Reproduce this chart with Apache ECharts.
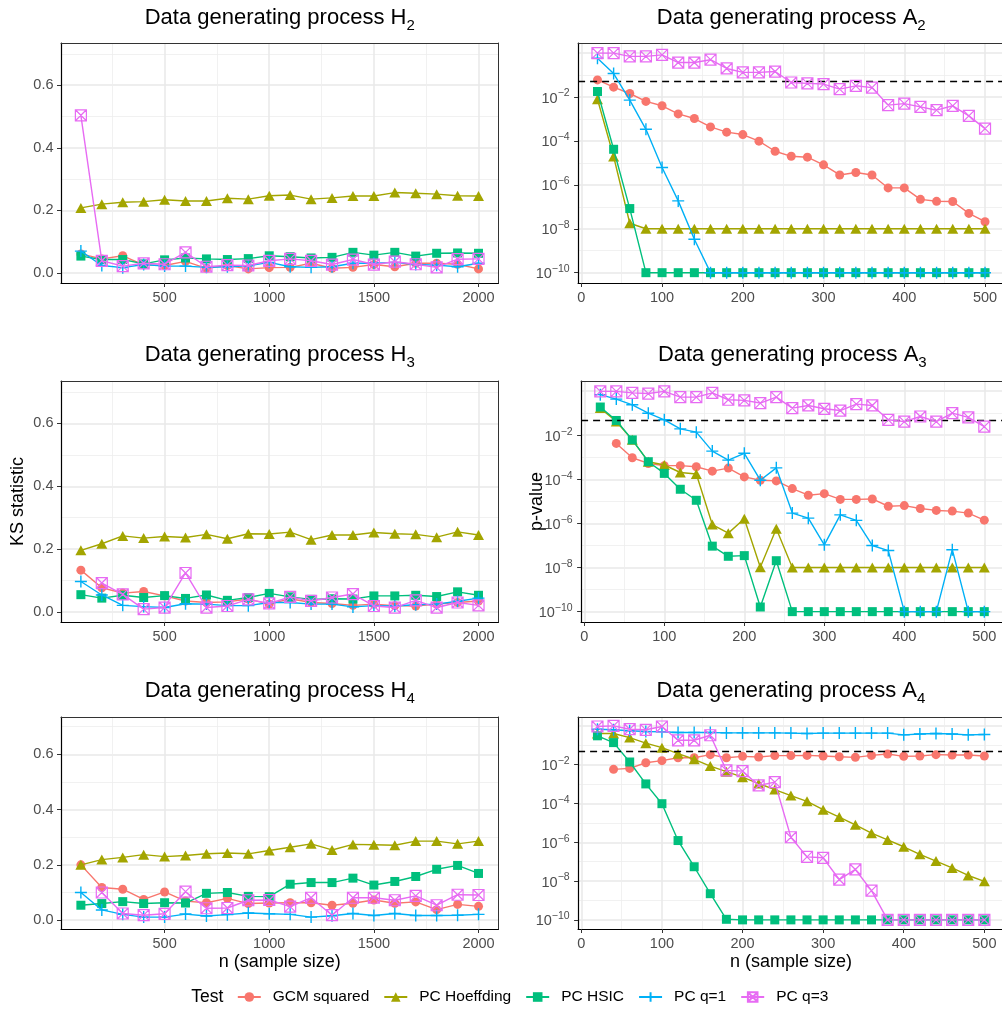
<!DOCTYPE html>
<html>
<head>
<meta charset="utf-8">
<title>Data generating processes</title>
<script src="https://cdn.jsdelivr.net/npm/echarts@6.0.0/dist/echarts.min.js"></script>
<style>
    html, body { margin: 0; padding: 0; background: #ffffff; }
    #chart { width: 1002px; height: 1011px; }
</style>
</head>
<body>
<div id="chart"></div>
<script>
// sample sizes
const nLarge = [100, 200, 300, 400, 500, 600, 700, 800, 900, 1000, 1100, 1200, 1300, 1400, 1500, 1600, 1700, 1800, 1900, 2000];
const nSmall = [20, 40, 60, 80, 100, 120, 140, 160, 180, 200, 220, 240, 260, 280, 300, 320, 340, 360, 380, 400, 420, 440, 460, 480, 500];

// KS statistic under the null processes (left column)
const h2Gcm = [0.061, 0.045, 0.055, 0.026, 0.024, 0.037, 0.015, 0.024, 0.013, 0.017, 0.018, 0.031, 0.015, 0.018, 0.027, 0.020, 0.031, 0.031, 0.028, 0.013];
const h2Hoeff = [0.208, 0.220, 0.226, 0.228, 0.234, 0.230, 0.230, 0.239, 0.236, 0.247, 0.249, 0.236, 0.240, 0.246, 0.246, 0.257, 0.255, 0.252, 0.247, 0.246];
const h2Hsic = [0.054, 0.043, 0.043, 0.029, 0.042, 0.048, 0.045, 0.043, 0.046, 0.055, 0.052, 0.048, 0.050, 0.066, 0.057, 0.066, 0.054, 0.063, 0.064, 0.063];
const h2Q1 = [0.070, 0.024, 0.017, 0.027, 0.022, 0.022, 0.018, 0.020, 0.023, 0.034, 0.020, 0.018, 0.020, 0.031, 0.031, 0.034, 0.027, 0.025, 0.020, 0.031];
const h2Q3 = [0.504, 0.039, 0.022, 0.031, 0.028, 0.066, 0.020, 0.025, 0.024, 0.039, 0.045, 0.039, 0.027, 0.043, 0.027, 0.036, 0.028, 0.018, 0.044, 0.045];

const h3Gcm = [0.133, 0.077, 0.060, 0.065, 0.051, 0.035, 0.030, 0.032, 0.041, 0.025, 0.042, 0.030, 0.027, 0.021, 0.025, 0.020, 0.019, 0.025, 0.030, 0.035];
const h3Hoeff = [0.196, 0.217, 0.242, 0.235, 0.240, 0.237, 0.247, 0.233, 0.249, 0.248, 0.254, 0.230, 0.245, 0.245, 0.253, 0.249, 0.247, 0.238, 0.255, 0.245];
const h3Hsic = [0.055, 0.044, 0.053, 0.046, 0.052, 0.043, 0.054, 0.037, 0.046, 0.059, 0.048, 0.040, 0.042, 0.041, 0.051, 0.051, 0.053, 0.049, 0.064, 0.053];
const h3Q1 = [0.097, 0.054, 0.021, 0.017, 0.014, 0.026, 0.025, 0.020, 0.020, 0.030, 0.030, 0.025, 0.025, 0.016, 0.020, 0.019, 0.023, 0.025, 0.034, 0.044];
const h3Q3 = [null, 0.092, 0.056, 0.009, 0.014, 0.124, 0.014, 0.019, 0.040, 0.027, 0.048, 0.035, 0.046, 0.057, 0.019, 0.014, 0.037, 0.014, 0.030, 0.021];

const h4Gcm = [0.200, 0.118, 0.112, 0.075, 0.102, 0.069, 0.063, 0.079, 0.060, 0.062, 0.063, 0.063, 0.054, 0.061, 0.073, 0.061, 0.066, 0.038, 0.057, 0.050];
const h4Hoeff = [0.200, 0.219, 0.227, 0.237, 0.230, 0.234, 0.240, 0.243, 0.240, 0.252, 0.264, 0.276, 0.254, 0.274, 0.273, 0.271, 0.286, 0.286, 0.276, 0.286];
const h4Hsic = [0.054, 0.060, 0.067, 0.060, 0.063, 0.062, 0.097, 0.100, 0.086, 0.085, 0.130, 0.136, 0.136, 0.152, 0.127, 0.140, 0.158, 0.184, 0.198, 0.169];
const h4Q1 = [0.100, 0.037, 0.021, 0.011, 0.011, 0.022, 0.015, 0.020, 0.026, 0.023, 0.021, 0.011, 0.016, 0.024, 0.017, 0.024, 0.017, 0.017, 0.018, 0.021];
const h4Q3 = [null, 0.100, 0.024, 0.018, 0.023, 0.103, 0.043, 0.044, 0.072, 0.073, 0.049, 0.081, 0.018, 0.081, 0.081, 0.072, 0.088, 0.054, 0.092, 0.091];

// log10(p-value) under the alternatives (right column)
const a2Gcm = [-1.22, -1.55, -1.84, -2.20, -2.40, -2.77, -2.98, -3.36, -3.60, -3.71, -4.01, -4.47, -4.70, -4.74, -5.09, -5.55, -5.44, -5.55, -6.14, -6.14, -6.66, -6.75, -6.76, -7.30, -7.68];
const a2Hoeff = [-2.10, -4.71, -7.75, -8, -8, -8, -8, -8, -8, -8, -8, -8, -8, -8, -8, -8, -8, -8, -8, -8, -8, -8, -8, -8, -8];
const a2Hsic = [-1.75, -4.38, -7.08, -10, -10, -10, -10, -10, -10, -10, -10, -10, -10, -10, -10, -10, -10, -10, -10, -10, -10, -10, -10, -10, -10];
const a2Q1 = [-0.23, -0.93, -2.14, -3.47, -5.21, -6.73, -8.48, -10, -10, -10, -10, -10, -10, -10, -10, -10, -10, -10, -10, -10, -10, -10, -10, -10, -10];
const a2Q3 = [0, 0, -0.15, -0.15, -0.08, -0.43, -0.43, -0.30, -0.70, -0.88, -0.88, -0.84, -1.34, -1.38, -1.41, -1.64, -1.49, -1.57, -2.37, -2.30, -2.45, -2.60, -2.40, -2.86, -3.44];

const a3Gcm = [null, -2.37, -3.02, -3.28, -3.38, -3.38, -3.43, -3.63, -3.49, -3.89, -4.04, -4.07, -4.42, -4.72, -4.65, -4.91, -4.91, -4.89, -5.22, -5.19, -5.32, -5.41, -5.44, -5.53, -5.85];
const a3Hoeff = [-0.77, -1.38, -2.21, -3.20, -3.35, -3.69, -3.76, -6.05, -6.44, -5.79, -7.99, -6.24, -8, -8, -8, -8, -8, -8, -8, -8, -8, -8, -8, -8, -8];
const a3Hsic = [-0.72, -1.33, -2.21, -3.20, -3.73, -4.45, -4.95, -7.03, -7.49, -7.46, -9.79, -7.69, -10, -10, -10, -10, -10, -10, -10, -10, -10, -10, -10, -10, -10];
const a3Q1 = [-0.16, -0.36, -0.62, -1.00, -1.30, -1.71, -1.86, -2.72, -3.13, -2.82, -4.04, -3.48, -5.53, -5.76, -6.97, -5.61, -5.86, -7.00, -7.23, -10, -10, -10, -7.19, -10, -10];
const a3Q3 = [-0.01, -0.01, -0.08, -0.11, -0.01, -0.27, -0.27, -0.08, -0.39, -0.42, -0.54, -0.27, -0.77, -0.65, -0.80, -0.88, -0.59, -0.65, -1.30, -1.38, -1.15, -1.38, -1.00, -1.19, -1.61];

const a4Gcm = [null, -2.24, -2.19, -1.90, -1.79, -1.64, -1.64, -1.48, -1.64, -1.57, -1.60, -1.53, -1.53, -1.52, -1.55, -1.59, -1.62, -1.52, -1.45, -1.57, -1.55, -1.48, -1.50, -1.50, -1.55];
const a4Hoeff = [-0.39, -0.39, -0.60, -0.89, -1.12, -1.43, -1.72, -2.07, -2.36, -2.64, -2.97, -3.28, -3.59, -3.89, -4.32, -4.70, -5.10, -5.53, -5.88, -6.23, -6.62, -6.97, -7.32, -7.71, -8.01];
const a4Hsic = [-0.51, -0.86, -1.86, -2.99, -4.01, -5.91, -7.26, -8.65, -9.97, -10, -10, -10, -10, -10, -10, -10, -10, -10, -10, -10, -10, -10, -10, -10, -10];
const a4Q1 = [-0.17, -0.20, -0.25, -0.29, -0.30, -0.34, -0.34, -0.34, -0.36, -0.36, -0.36, -0.36, -0.37, -0.39, -0.37, -0.37, -0.37, -0.37, -0.37, -0.46, -0.42, -0.39, -0.42, -0.46, -0.44];
const a4Q3 = [-0.03, 0, -0.17, -0.20, -0.03, -0.74, -0.74, -0.48, -2.29, -2.33, -3.07, -2.90, -5.74, -6.75, -6.80, -7.92, -7.40, -8.49, -10, -10, -10, -10, -10, -10, -10];

const testNames = ['GCM squared', 'PC Hoeffding', 'PC HSIC', 'PC q=1', 'PC q=3'];
const testColors = ['#F8766D', '#A3A500', '#00BF7D', '#00B0F6', '#E76BF3'];

// labelled breaks, and the major grid lines drawn through them
const ksTicks = [0, 0.2, 0.4, 0.6];
const pTicks = [-10, -8, -6, -4, -2];
const pGrid = [-10, -8, -6, -4, -2, 0];
const nLargeTicks = [500, 1000, 1500, 2000];
const nSmallTicks = [0, 100, 200, 300, 400, 500];
const alpha = 0.05;

const FONT = '"Liberation Sans", Arial, Helvetica, sans-serif';
const PLUS = 'path://M0,5L10,5M5,0L5,10';
const BOXX = 'path://M0,0L10,0L10,10L0,10ZM0,0L10,10M10,0L0,10';

const panels = [
    { proc: 'H', sub: '2', kind: 'ks', data: [h2Gcm, h2Hoeff, h2Hsic, h2Q1, h2Q3], box: { left: 61, top: 43, width: 437.4, height: 240 }, titleTop: 3 },
    { proc: 'A', sub: '2', kind: 'p', data: [a2Gcm, a2Hoeff, a2Hsic, a2Q1, a2Q3], box: { left: 578.1, top: 43, width: 426.3, height: 240 }, titleTop: 3 },
    { proc: 'H', sub: '3', kind: 'ks', data: [h3Gcm, h3Hoeff, h3Hsic, h3Q1, h3Q3], box: { left: 61, top: 381, width: 437.4, height: 241 }, titleTop: 340 },
    { proc: 'A', sub: '3', kind: 'p', data: [a3Gcm, a3Hoeff, a3Hsic, a3Q1, a3Q3], box: { left: 581.1, top: 381, width: 422.4, height: 241 }, titleTop: 340 },
    { proc: 'H', sub: '4', kind: 'ks', data: [h4Gcm, h4Hoeff, h4Hsic, h4Q1, h4Q3], box: { left: 61, top: 717, width: 437.4, height: 212 }, titleTop: 676 },
    { proc: 'A', sub: '4', kind: 'p', data: [a4Gcm, a4Hoeff, a4Hsic, a4Q1, a4Q3], box: { left: 578.1, top: 717, width: 425.6, height: 212 }, titleTop: 676 }
];

function onTick(v, ticks) {
    return ticks.some(t => Math.abs(t - v) < 1e-7);
}

function markerStyle(k) {
    let c = testColors[k];
    if (k === 3) {
        return { symbol: PLUS, symbolSize: 12, itemStyle: { color: 'rgba(0,0,0,0)', borderColor: c, borderWidth: 1.4 } };
    }
    if (k === 4) {
        return { symbol: BOXX, symbolSize: 11, itemStyle: { color: 'rgba(0,0,0,0)', borderColor: c, borderWidth: 1.2 } };
    }
    let shapes = ['circle', 'triangle', 'rect'];
    let sizes = [9, [11, 10], 9];
    return { symbol: shapes[k], symbolSize: sizes[k], itemStyle: { color: c, borderWidth: 0 } };
}

let gridLine = { show: true, lineStyle: { color: '#E8E8E8', width: 1.5 } };
let minorLine = { show: true, lineStyle: { color: '#EEEEEE', width: 0.8 } };
let tickLabel = { color: '#4D4D4D', fontSize: 14.5, fontFamily: FONT };
let tickLine = { color: '#333333', width: 1 };
let borderLine = { show: true, onZero: false, lineStyle: { color: '#333333', width: 1 } };

function xAxisFor(p, i) {
    let ks = p.kind === 'ks';
    let ticks = ks ? nLargeTicks : nSmallTicks;
    return {
        type: 'value',
        gridIndex: i,
        position: 'bottom',
        min: ks ? 5 : -4,
        max: ks ? 2095 : 524,
        minInterval: ks ? 500 : 100,
        maxInterval: ks ? 500 : 100,
        axisLine: { show: true, onZero: false, lineStyle: { color: '#000', width: 1.2 } },
        axisTick: { show: true, length: 4, customValues: ticks, lineStyle: tickLine },
        axisLabel: {
            ...tickLabel,
            margin: 7,
            customValues: ticks,
            formatter: v => onTick(v, ticks) ? String(v) : ''
        },
        splitLine: gridLine,
        minorTick: { show: false, splitNumber: 2 },
        minorSplitLine: minorLine
    };
}

function yAxisFor(p, i) {
    let ks = p.kind === 'ks';
    let ticks = ks ? ksTicks : pTicks;
    return {
        type: 'value',
        gridIndex: i,
        position: 'left',
        min: ks ? -0.032 : -10.47,
        max: ks ? 0.735 : 0.46,
        minInterval: ks ? 0.2 : 2,
        maxInterval: ks ? 0.2 : 2,
        axisLine: { show: true, onZero: false, lineStyle: { color: '#000', width: 1.2 } },
        // on the p-value panels the grid also runs through 10^0, which has no tick
        axisTick: { show: ks, length: 4, customValues: ks ? ticks : pGrid, lineStyle: tickLine },
        axisLabel: {
            ...tickLabel,
            margin: ks ? 7.5 : 8.5,
            customValues: ticks,
            formatter: function(v) {
                if (!onTick(v, ticks)) return '';
                if (ks) return v.toFixed(1);
                return '{b|10}{s|\u2212' + Math.round(-v) + '}';
            },
            rich: {
                b: { fontSize: 14.5, lineHeight: 18, verticalAlign: 'bottom', color: '#4D4D4D', fontFamily: FONT },
                s: { fontSize: 10.5, lineHeight: 9, verticalAlign: 'top', color: '#4D4D4D', fontFamily: FONT }
            }
        },
        splitLine: gridLine,
        minorTick: { show: false, splitNumber: 2 },
        minorSplitLine: minorLine
    };
}

// extra axes: panel border (top / right) and the tick marks of the p-value axes
function plainAxis(gridIndex, position, extra) {
    return {
        type: 'value',
        gridIndex: gridIndex,
        position: position,
        min: 0,
        max: 1,
        axisLine: { show: false, onZero: false },
        axisTick: { show: false },
        axisLabel: { show: false },
        splitLine: { show: false },
        minorSplitLine: { show: false },
        ...extra
    };
}

let xAxes = panels.map(xAxisFor);
let yAxes = panels.map(yAxisFor);
panels.forEach(function(p, i) {
    xAxes.push(plainAxis(i, 'top', { axisLine: borderLine }));
    if (p.kind === 'ks') {
        yAxes.push(plainAxis(i, 'right', { axisLine: borderLine }));
    } else {
        yAxes.push(plainAxis(i, 'left', {
            min: -10.47,
            max: 0.46,
            axisTick: { show: true, length: 4, customValues: pTicks, lineStyle: tickLine }
        }));
    }
});

let series = [];
panels.forEach(function(p, i) {
    let xs = p.kind === 'ks' ? nLarge : nSmall;
    p.data.forEach(function(ys, k) {
        let s = {
            name: testNames[k],
            type: 'line',
            xAxisIndex: i,
            yAxisIndex: i,
            data: xs.map((x, j) => [x, ys[j]]),
            lineStyle: { color: testColors[k], width: 1.4 },
            ...markerStyle(k),
            silent: true,
            animation: false,
            z: 2 + k
        };
        if (k === 0 && p.kind === 'p') {
            // 5% significance level
            s.markLine = {
                silent: true,
                symbol: ['none', 'none'],
                label: { show: false },
                lineStyle: { color: '#000', type: [7, 5], width: 1.3 },
                data: [{ yAxis: Math.log10(alpha) }]
            };
        }
        series.push(s);
    });
});

let titles = panels.map(p => ({
    text: '{t|Data generating process ' + p.proc + '}{s|' + p.sub + '}',
    left: p.box.left + p.box.width / 2,
    top: p.titleTop,
    textAlign: 'center',
    padding: 0,
    textStyle: {
        fontWeight: 'normal',
        rich: {
            t: { fontSize: 22, lineHeight: 30, color: '#000', fontFamily: FONT },
            s: { fontSize: 15, lineHeight: 16, verticalAlign: 'bottom', color: '#000', fontFamily: FONT }
        }
    }
}));

function label(text, x, y, size, rotate) {
    return {
        type: 'text',
        x: x,
        y: y,
        rotation: rotate ? Math.PI / 2 : 0,
        silent: true,
        style: {
            text: text,
            fontSize: size,
            fontFamily: FONT,
            fill: '#000',
            align: 'center',
            verticalAlign: 'middle',
            textAlign: 'center',
            textVerticalAlign: 'middle'
        }
    };
}

let chart = echarts.init(document.getElementById('chart'));
chart.setOption({
    backgroundColor: '#ffffff',
    animation: false,
    textStyle: { fontFamily: FONT },
    title: titles,
    legend: {
        data: testNames,
        left: 236.8,
        top: 988,
        padding: 0,
        itemWidth: 23,
        itemHeight: 12,
        itemGap: 14,
        selectedMode: false,
        textStyle: { fontSize: 15.5, color: '#000', fontFamily: FONT, lineHeight: 18, padding: [0, 0, 0, 7] }
    },
    grid: panels.map(p => ({
        left: p.box.left,
        top: p.box.top,
        width: p.box.width,
        height: p.box.height,
        show: false,
        containLabel: false,
        outerBoundsMode: 'none'
    })),
    xAxis: xAxes,
    yAxis: yAxes,
    graphic: [
        label('KS statistic', 18, 501.5, 18, true),
        label('p-value', 537, 501.5, 18, true),
        label('n (sample size)', 279.7, 962, 18, false),
        label('n (sample size)', 791, 962, 18, false),
        label('Test', 207.3, 997, 17.5, false)
    ],
    series: series
});

window.addEventListener('resize', function() {
    setTimeout(() => {
        chart.resize();
    }, 500);
});
</script>
</body>
</html>
